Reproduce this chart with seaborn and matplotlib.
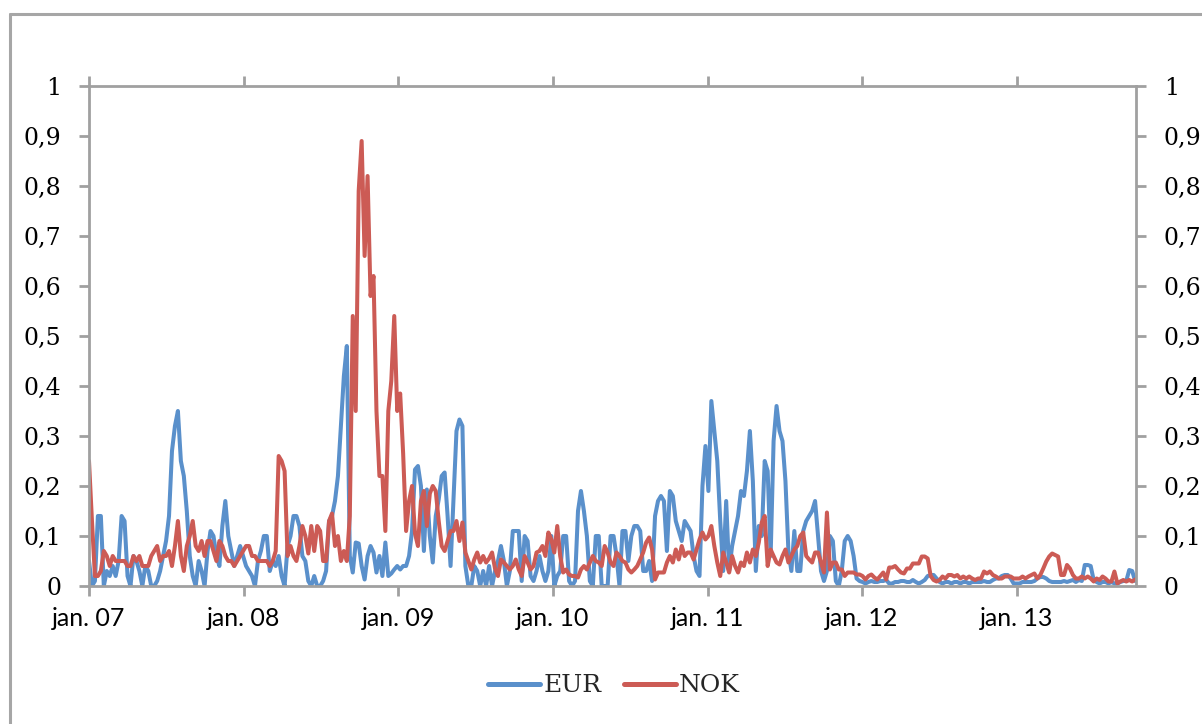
import matplotlib
matplotlib.use("Agg")
import matplotlib.pyplot as plt
from matplotlib.lines import Line2D
import numpy as np
import pandas as pd
import seaborn as sns

# Weekly series, starting first week of January 2007
start_date = "2007-01-01"

eur = [
    0.05, 0.00, 0.01, 0.14, 0.14, 0.00, 0.03, 0.02, 0.04, 0.02,
    0.05, 0.14, 0.13, 0.02, 0.00, 0.06, 0.05, 0.03, 0.00, 0.04,
    0.03, 0.00, 0.00, 0.01, 0.03, 0.06, 0.09, 0.14, 0.27, 0.32,
    0.35, 0.25, 0.22, 0.15, 0.06, 0.02, 0.00, 0.05, 0.03, 0.00,
    0.07, 0.11, 0.10, 0.06, 0.04, 0.12, 0.17, 0.10, 0.07, 0.04,
    0.06, 0.08, 0.06, 0.04, 0.03, 0.02, 0.00, 0.05, 0.07, 0.10,
    0.10, 0.03, 0.05, 0.04, 0.06, 0.02, 0.00, 0.08, 0.10, 0.14,
    0.14, 0.12, 0.06, 0.05, 0.01, 0.00, 0.02, 0.00, 0.00, 0.01,
    0.03, 0.13, 0.14, 0.17, 0.22, 0.32, 0.42, 0.48, 0.06, 0.027,
    0.087, 0.085, 0.04, 0.013, 0.06, 0.08, 0.067, 0.027, 0.06, 0.02,
    0.087, 0.02, 0.025, 0.033, 0.04, 0.033, 0.04, 0.04, 0.06, 0.11,
    0.233, 0.24, 0.20, 0.07, 0.193, 0.10, 0.047, 0.14, 0.173, 0.22,
    0.227, 0.14, 0.04, 0.173, 0.31, 0.333, 0.32, 0.04, 0.00, 0.00,
    0.04, 0.03, 0.00, 0.03, 0.00, 0.04, 0.00, 0.03, 0.05, 0.08,
    0.05, 0.00, 0.03, 0.11, 0.11, 0.11, 0.01, 0.10, 0.09, 0.02,
    0.01, 0.03, 0.06, 0.03, 0.01, 0.03, 0.10, 0.00, 0.02, 0.03,
    0.10, 0.10, 0.01, 0.00, 0.01, 0.15, 0.19, 0.15, 0.10, 0.01,
    0.00, 0.10, 0.10, 0.00, 0.00, 0.00, 0.10, 0.10, 0.06, 0.00,
    0.11, 0.11, 0.05, 0.10, 0.12, 0.12, 0.11, 0.03, 0.03, 0.05,
    0.01, 0.14, 0.17, 0.18, 0.17, 0.07, 0.19, 0.18, 0.13, 0.11,
    0.09, 0.13, 0.12, 0.11, 0.06, 0.03, 0.02, 0.20, 0.28, 0.19,
    0.37, 0.31, 0.25, 0.13, 0.03, 0.17, 0.03, 0.08, 0.11, 0.14,
    0.19, 0.18, 0.23, 0.31, 0.21, 0.03, 0.12, 0.10, 0.25, 0.23,
    0.06, 0.29, 0.36, 0.31, 0.29, 0.21, 0.07, 0.03, 0.11, 0.03,
    0.03, 0.11, 0.13, 0.14, 0.15, 0.17, 0.10, 0.03, 0.01, 0.03,
    0.10, 0.09, 0.01, 0.00, 0.03, 0.09, 0.10, 0.09, 0.06, 0.015,
    0.01, 0.008, 0.005, 0.008, 0.01, 0.008, 0.008, 0.01, 0.01, 0.012,
    0.005, 0.005, 0.008, 0.008, 0.01, 0.01, 0.008, 0.008, 0.012, 0.008,
    0.005, 0.008, 0.012, 0.02, 0.022, 0.022, 0.015, 0.008, 0.005, 0.008,
    0.008, 0.005, 0.008, 0.008, 0.005, 0.008, 0.008, 0.005, 0.008, 0.008,
    0.008, 0.008, 0.01, 0.008, 0.008, 0.012, 0.015, 0.015, 0.02, 0.022,
    0.022, 0.015, 0.005, 0.005, 0.005, 0.008, 0.008, 0.008, 0.008, 0.01,
    0.015, 0.018, 0.018, 0.015, 0.01, 0.008, 0.008, 0.008, 0.008, 0.01,
    0.008, 0.01, 0.012, 0.008, 0.012, 0.01, 0.042, 0.042, 0.04, 0.012,
    0.008, 0.005, 0.008, 0.008, 0.005, 0.008, 0.005, 0.005, 0.008, 0.01,
    0.01, 0.032, 0.03, 0.01,
]

nok = [
    0.25, 0.13, 0.02, 0.02, 0.03, 0.07, 0.06, 0.04, 0.06, 0.05,
    0.05, 0.05, 0.05, 0.04, 0.04, 0.06, 0.05, 0.06, 0.04, 0.04,
    0.04, 0.06, 0.07, 0.08, 0.05, 0.06, 0.06, 0.07, 0.04, 0.08,
    0.13, 0.06, 0.03, 0.08, 0.10, 0.13, 0.08, 0.07, 0.09, 0.06,
    0.09, 0.09, 0.07, 0.05, 0.09, 0.08, 0.06, 0.05, 0.05, 0.04,
    0.05, 0.06, 0.07, 0.08, 0.08, 0.06, 0.06, 0.05, 0.05, 0.05,
    0.05, 0.04, 0.05, 0.07, 0.26, 0.25, 0.23, 0.06, 0.08, 0.06,
    0.05, 0.08, 0.12, 0.10, 0.065, 0.12, 0.07, 0.12, 0.11, 0.05,
    0.05, 0.13, 0.145, 0.08, 0.10, 0.05, 0.07, 0.05, 0.14, 0.54,
    0.35, 0.79, 0.89, 0.66, 0.82, 0.58, 0.62, 0.35, 0.22, 0.22,
    0.11, 0.35, 0.41, 0.54, 0.35, 0.385, 0.265, 0.11, 0.17, 0.20,
    0.105, 0.08, 0.17, 0.19, 0.12, 0.185, 0.20, 0.19, 0.13, 0.08,
    0.07, 0.09, 0.11, 0.11, 0.13, 0.09, 0.127, 0.067, 0.05, 0.033,
    0.053, 0.067, 0.047, 0.06, 0.047, 0.055, 0.067, 0.035, 0.02, 0.053,
    0.047, 0.04, 0.033, 0.04, 0.053, 0.033, 0.02, 0.06, 0.047, 0.033,
    0.04, 0.067, 0.07, 0.08, 0.06, 0.107, 0.093, 0.067, 0.12, 0.06,
    0.027, 0.033, 0.023, 0.02, 0.02, 0.017, 0.033, 0.04, 0.033, 0.047,
    0.06, 0.05, 0.047, 0.04, 0.08, 0.067, 0.047, 0.04, 0.067, 0.06,
    0.05, 0.047, 0.033, 0.027, 0.033, 0.04, 0.053, 0.067, 0.087, 0.097,
    0.073, 0.013, 0.027, 0.027, 0.027, 0.047, 0.06, 0.047, 0.073, 0.053,
    0.08, 0.06, 0.067, 0.067, 0.053, 0.073, 0.093, 0.107, 0.093, 0.10,
    0.12, 0.08, 0.047, 0.02, 0.067, 0.047, 0.027, 0.06, 0.04, 0.027,
    0.047, 0.04, 0.067, 0.047, 0.073, 0.06, 0.087, 0.127, 0.14, 0.04,
    0.073, 0.06, 0.047, 0.043, 0.06, 0.073, 0.047, 0.06, 0.073, 0.08,
    0.10, 0.107, 0.06, 0.053, 0.047, 0.067, 0.067, 0.047, 0.027, 0.147,
    0.033, 0.047, 0.047, 0.033, 0.033, 0.02, 0.027, 0.027, 0.027, 0.023,
    0.023, 0.02, 0.013, 0.02, 0.023, 0.017, 0.013, 0.02, 0.027, 0.013,
    0.037, 0.037, 0.04, 0.033, 0.027, 0.025, 0.035, 0.035, 0.045, 0.045,
    0.045, 0.059, 0.059, 0.055, 0.02, 0.012, 0.009, 0.012, 0.019, 0.015,
    0.022, 0.022, 0.019, 0.022, 0.015, 0.019, 0.015, 0.019, 0.015, 0.012,
    0.015, 0.015, 0.029, 0.025, 0.029, 0.022, 0.019, 0.015, 0.015, 0.019,
    0.019, 0.019, 0.015, 0.015, 0.015, 0.019, 0.015, 0.019, 0.022, 0.025,
    0.015, 0.022, 0.035, 0.049, 0.059, 0.065, 0.062, 0.059, 0.022, 0.022,
    0.042, 0.035, 0.022, 0.015, 0.015, 0.019, 0.015, 0.019, 0.015, 0.009,
    0.015, 0.012, 0.019, 0.015, 0.009, 0.009, 0.029, 0.005, 0.009, 0.012,
    0.009, 0.012, 0.009, 0.013,
]

series_names = ["EUR", "NOK"]
series_colors = ["#5A90CB", "#CC5B55"]

year_ticks = ["2007-01-01", "2008-01-01", "2009-01-01", "2010-01-01",
              "2011-01-01", "2012-01-01", "2013-01-01"]
year_labels = ["jan. 07", "jan. 08", "jan. 09", "jan. 10",
               "jan. 11", "jan. 12", "jan. 13"]
y_ticks = [0, 0.1, 0.2, 0.3, 0.4, 0.5, 0.6, 0.7, 0.8, 0.9, 1.0]
y_labels = ["0", "0,1", "0,2", "0,3", "0,4", "0,5", "0,6", "0,7", "0,8", "0,9", "1"]

dates = pd.date_range(start_date, periods=len(eur), freq="7D")
df = pd.DataFrame({
    "date": np.concatenate([dates, dates]),
    "value": np.concatenate([eur, nok]),
    "series": np.repeat(series_names, len(eur)),
})

sns.set_theme(style="white")
plt.rcParams["font.family"] = ["DejaVu Serif"]

W, H = 1202, 724
fig = plt.figure(figsize=(W / 100, H / 100), dpi=100)
fig.patch.set_facecolor("white")

# outer chart frame (left and top edges visible)
frame_col = "#A6A6A6"
fig.add_artist(Line2D([10.5 / W, 10.5 / W], [0, 1 - 14 / H], color=frame_col, lw=2.2))
fig.add_artist(Line2D([10.5 / W, 1], [1 - 14 / H, 1 - 14 / H], color=frame_col, lw=2.2))

ax = fig.add_axes([89 / W, 1 - 586 / H, (1136 - 89) / W, 500 / H])
sns.lineplot(data=df, x="date", y="value", hue="series", palette=series_colors,
             hue_order=series_names, estimator=None, linewidth=2.9, ax=ax,
             legend=False)
for ln in ax.get_lines():
    ln.set_solid_joinstyle("round")
    ln.set_solid_capstyle("round")

ax.set_xlim(pd.Timestamp("2007-01-01"), pd.Timestamp("2013-10-09"))
ax.set_ylim(0, 1)
ax.set_xlabel("")
ax.set_ylabel("")

spine_col = "#A0A0A0"
for s in ax.spines.values():
    s.set_color(spine_col)
    s.set_linewidth(2.0)
    s.set_visible(True)

ax.set_xticks([pd.Timestamp(d) for d in year_ticks])
ax.set_xticklabels(year_labels, family=["Lato", "DejaVu Sans"], fontsize=18)
ax.set_yticks(y_ticks)
ax.set_yticklabels(y_labels, fontsize=17)

ax.xaxis.set_ticks_position("both")
ax.yaxis.set_ticks_position("both")
ax.tick_params(axis="both", which="major", direction="out", length=7,
               width=2.0, color=spine_col)
ax.tick_params(axis="y", labelleft=True, labelright=True, pad=13, labelcolor="black")
ax.tick_params(axis="y", which="major", right=True)
ax.tick_params(axis="x", labelbottom=True, labeltop=False, pad=8, labelcolor="black")

handles = [Line2D([], [], color=c, lw=3.6, solid_capstyle="round") for c in series_colors]
fig.legend(handles, series_names, loc="center", bbox_to_anchor=(614 / W, 1 - 686 / H),
           ncol=2, frameon=False, fontsize=18, handlelength=2.1, handletextpad=0.12,
           columnspacing=0.9)

fig.savefig("out.png", dpi=100, facecolor="white")
